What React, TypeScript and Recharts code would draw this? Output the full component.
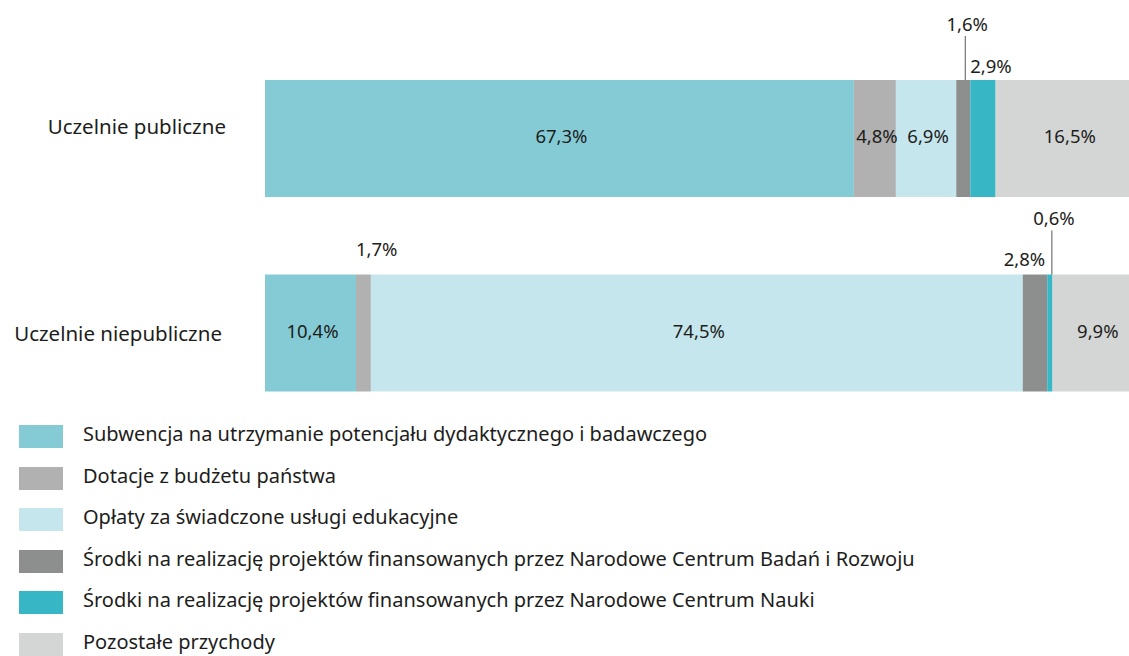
import { BarChart, Bar, XAxis, YAxis, LabelList } from 'recharts'

const categories = ['Uczelnie publiczne', 'Uczelnie niepubliczne']
const subwencja = [67.3, 10.4]
const dotacje = [4.8, 1.7]
const oplaty = [6.9, 74.5]
const ncbr = [1.6, 2.8]
const ncn = [2.9, 0.6]
const pozostale = [16.5, 9.9]

const seriesNames = [
  'Subwencja na utrzymanie potencjału dydaktycznego i badawczego',
  'Dotacje z budżetu państwa',
  'Opłaty za świadczone usługi edukacyjne',
  'Środki na realizację projektów finansowanych przez Narodowe Centrum Badań i Rozwoju',
  'Środki na realizację projektów finansowanych przez Narodowe Centrum Nauki',
  'Pozostałe przychody',
]

const FONT = '"Noto Sans", sans-serif'
const TEXT = '#1d1d1b'

const series = [
  { key: 'subwencja', color: '#84cbd6', values: subwencja },
  { key: 'dotacje', color: '#b1b1b1', values: dotacje },
  { key: 'oplaty', color: '#c5e6ec', values: oplaty },
  { key: 'ncbr', color: '#8d8f8e', values: ncbr },
  { key: 'ncn', color: '#37b7c6', values: ncn },
  { key: 'pozostale', color: '#d4d5d5', values: pozostale },
]

const data = categories.map((name, i) => {
  const row: Record<string, string | number> = { name }
  series.forEach((s) => (row[s.key] = s.values[i]))
  return row
})

// how the small segments get their labels (row -> mode)
const smallLabelMode: Record<string, string[]> = {
  dotacje: ['inside', 'aboveStart'],
  ncbr: ['leader', 'aboveEnd'],
  ncn: ['aboveStart', 'leader'],
}

const fmt = (v: number) => v.toFixed(1).replace('.', ',') + '%'

function makeLabel(key: string) {
  return (props: any) => {
    const { x, y, width, height, value, index } = props
    const mode = value >= 4 ? 'inside' : smallLabelMode[key]?.[index] ?? 'inside'
    const common = { fontFamily: FONT, fontSize: 18.5, fill: TEXT }
    if (mode === 'inside') {
      return (
        <text x={x + width / 2 + 2} y={y + height / 2 - 3} textAnchor="middle" dominantBaseline="central" {...common}>
          {fmt(value)}
        </text>
      )
    }
    if (mode === 'leader') {
      const cx = x + width / 2 + 2
      return (
        <g>
          <line x1={cx} x2={cx} y1={y - 44} y2={y} stroke="#555" strokeWidth={1} />
          <text x={cx + 2} y={y - 57} textAnchor="middle" dominantBaseline="central" {...common}>
            {fmt(value)}
          </text>
        </g>
      )
    }
    if (mode === 'aboveStart') {
      return (
        <text x={x} y={y - (index === 0 ? 15 : 26)} textAnchor="start" dominantBaseline="central" {...common}>
          {fmt(value)}
        </text>
      )
    }
    return (
      <text x={x + width - 2} y={y - 16} textAnchor="end" dominantBaseline="central" {...common}>
        {fmt(value)}
      </text>
    )
  }
}

function CategoryTick(props: any) {
  const { x, y, payload, index } = props
  const dy = index === 0 ? -12 : 0
  const dx = index === 0 ? -31 : -35
  return (
    <text x={x + dx} y={y + dy} textAnchor="end" dominantBaseline="central" fontFamily={FONT} fontSize={20.5} fill={TEXT}>
      {payload.value}
    </text>
  )
}

export default function App() {
  return (
    <div style={{ position: 'absolute', left: 0, top: 0, width: 1129, height: 656, overflow: 'hidden', background: '#fff' }}>
      <BarChart
        width={1140}
        height={430}
        data={data}
        layout="vertical"
        barSize={117}
        margin={{ top: 41, right: 0, bottom: 0, left: 0 }}
      >
        <XAxis type="number" domain={[0, 100]} hide />
        <YAxis type="category" dataKey="name" width={265} axisLine={false} tickLine={false} tick={<CategoryTick />} />
        {series.map((s) => (
          <Bar key={s.key} dataKey={s.key} stackId="a" fill={s.color} isAnimationActive={false}>
            <LabelList dataKey={s.key} content={makeLabel(s.key)} />
          </Bar>
        ))}
      </BarChart>
      <div style={{ position: 'absolute', left: 19, top: 425, fontFamily: FONT, fontSize: 20, color: TEXT }}>
        {seriesNames.map((n, i) => (
          <div key={n} style={{ display: 'flex', alignItems: 'center', height: 23, marginBottom: 18.5 }}>
            <span style={{ width: 44, height: 23, background: series[i].color, display: 'inline-block', marginRight: 20, flexShrink: 0 }} />
            <span style={{ lineHeight: '23px', marginTop: -6, whiteSpace: 'nowrap' }}>{n}</span>
          </div>
        ))}
      </div>
    </div>
  )
}
